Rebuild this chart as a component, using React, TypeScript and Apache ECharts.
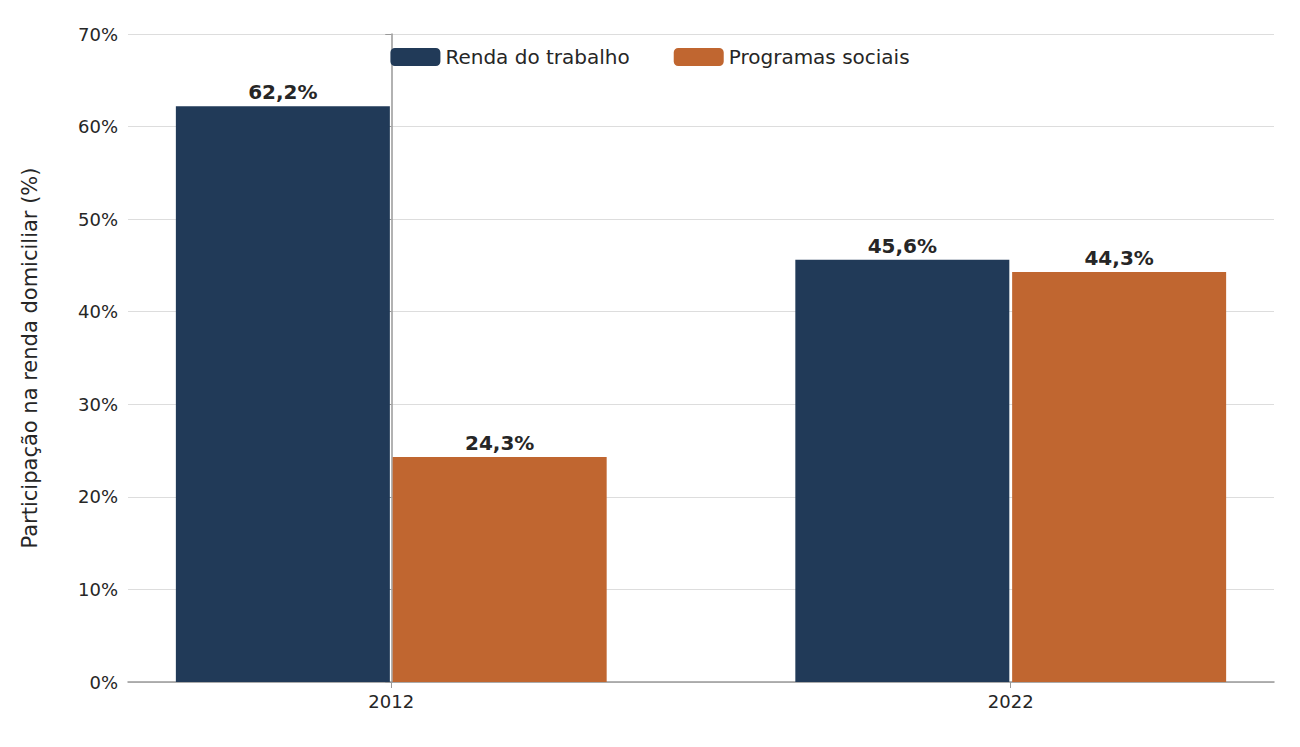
import React, { useEffect, useRef } from "react";
import * as echarts from "echarts";

const years = ["2012", "2022"];
const rendaTrabalho = [62.2, 45.6];
const programasSociais = [24.3, 44.3];
const yTicks = [0, 10, 20, 30, 40, 50, 60, 70];

const fmt = (v: number) => v.toFixed(1).replace(".", ",") + "%";

const App: React.FC = () => {
	const chartRef = useRef<HTMLDivElement>(null);

	useEffect(() => {
		if (!chartRef.current) return;
		const chart = echarts.init(chartRef.current, undefined, { renderer: "svg" });
		const font = "DejaVu Sans";
		const label = {
			show: true,
			position: "top" as const,
			distance: 4,
			formatter: (p: any) => fmt(p.value[1]),
			fontFamily: font,
			fontSize: 20,
			fontWeight: "bold" as const,
			color: "#262626",
		};
		chart.setOption({
			animation: false,
			textStyle: { fontFamily: font },
			grid: { left: 120, right: 18, top: 26, bottom: 57 },
			legend: {
				top: 34,
				left: "center",
				itemWidth: 50,
				itemHeight: 18,
				itemGap: 44,
				textStyle: { fontSize: 20, color: "#262626", fontFamily: font },
				data: ["Renda do trabalho", "Programas sociais"],
			},
			xAxis: {
				type: "value",
				min: -0.425,
				max: 1.425,
				splitLine: { show: false },
				axisLine: { show: true, lineStyle: { color: "#999", width: 1.5 } },
				axisTick: { show: true, customValues: [0, 1], length: 6, lineStyle: { color: "#999" } },
				axisLabel: {
					customValues: [0, 1],
					formatter: (v: number) => years[Math.round(v)] ?? "",
					fontSize: 18,
					color: "#262626",
					margin: 10,
				},
			},
			yAxis: {
				type: "value",
				min: 0,
				max: 70,
				interval: 10,
				name: "Participação na renda domiciliar (%)",
				nameLocation: "middle",
				nameGap: 88,
				nameTextStyle: { fontSize: 21, color: "#262626", fontFamily: font },
				axisLine: { show: true, lineStyle: { color: "#999", width: 1.5 } },
				axisTick: { show: true, length: 6, lineStyle: { color: "#999" } },
				axisLabel: {
					formatter: (v: number) => (yTicks.includes(v) ? v + "%" : ""),
					fontSize: 18,
					color: "#262626",
					margin: 10,
				},
				splitLine: { lineStyle: { color: "#dddddd", width: 1 } },
			},
			series: [
				{
					name: "Renda do trabalho",
					type: "bar",
					barWidth: 214,
					barGap: "-100%",
					itemStyle: { color: "#213a58" },
					label,
					data: rendaTrabalho.map((v, i) => [i - 0.175, v]),
				},
				{
					name: "Programas sociais",
					type: "bar",
					barWidth: 214,
					barGap: "-100%",
					itemStyle: { color: "#c06630" },
					label,
					data: programasSociais.map((v, i) => [i + 0.175, v]),
				},
			],
		});
		return () => chart.dispose();
	}, []);

	return <div ref={chartRef} style={{ width: "1284px", height: "731px" }} />;
};

export default App;
